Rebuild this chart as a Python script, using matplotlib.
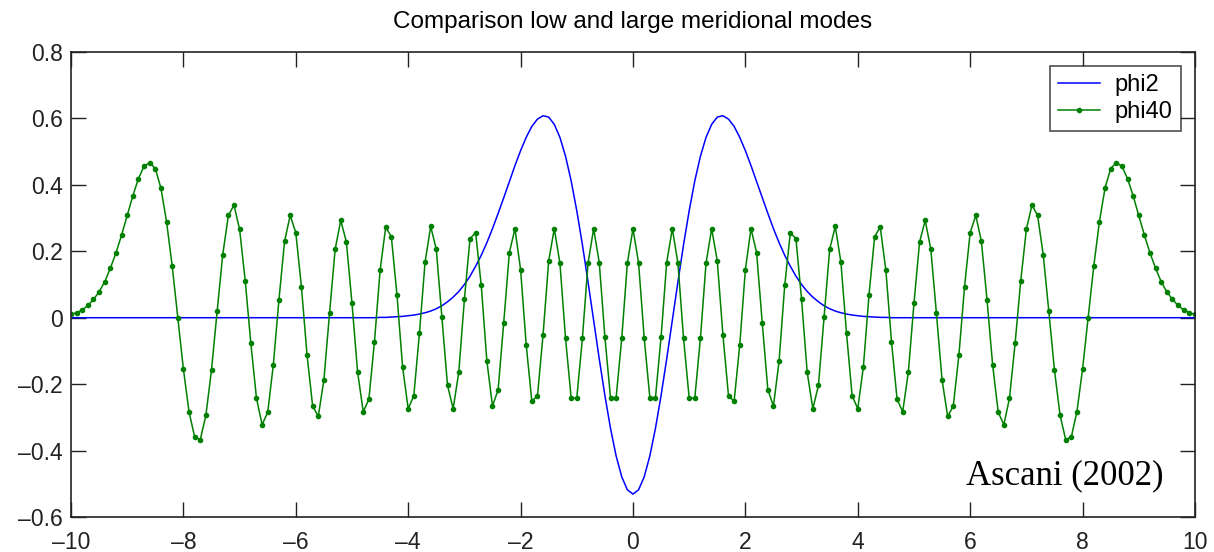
import matplotlib
matplotlib.use("Agg")
import matplotlib.pyplot as plt

plt.rcParams['font.family'] = ['Liberation Sans', 'DejaVu Sans']

# x grid, step 0.1 from -10 to 10
x = [round(-10 + 0.1 * i, 1) for i in range(201)]

# phi2 (zero outside |x| ~ 4.5)
phi2_core = [0.001, 0.001, 0.002, 0.003, 0.004, 0.006, 0.008, 0.011, 0.015, 0.020,
             0.027, 0.036, 0.048, 0.062, 0.079, 0.100, 0.125, 0.155, 0.188, 0.226,
             0.268, 0.314, 0.361, 0.410, 0.458, 0.503, 0.543, 0.576, 0.598, 0.608,
             0.604, 0.582, 0.543, 0.486, 0.412, 0.322, 0.220, 0.108, -0.008, -0.124,
             -0.234, -0.333, -0.416, -0.479, -0.518, -0.531, -0.518, -0.479, -0.416, -0.333,
             -0.234, -0.124, -0.008, 0.108, 0.220, 0.322, 0.412, 0.486, 0.543, 0.582,
             0.604, 0.608, 0.598, 0.576, 0.543, 0.503, 0.458, 0.410, 0.361, 0.314,
             0.268, 0.226, 0.188, 0.155, 0.125, 0.100, 0.079, 0.062, 0.048, 0.036,
             0.027, 0.020, 0.015, 0.011, 0.008, 0.006, 0.004, 0.003, 0.002, 0.001,
             0.001]
phi2 = [0.0] * 55 + phi2_core + [0.0] * 55

phi40 = [0.010, 0.015, 0.023, 0.037, 0.055, 0.078, 0.108, 0.149, 0.195, 0.249,
         0.308, 0.367, 0.419, 0.456, 0.467, 0.449, 0.390, 0.289, 0.156, 0.000,
         -0.155, -0.283, -0.359, -0.367, -0.294, -0.157, 0.019, 0.190, 0.308, 0.339,
         0.266, 0.111, -0.077, -0.242, -0.322, -0.285, -0.142, 0.054, 0.230, 0.308,
         0.256, 0.093, -0.112, -0.266, -0.297, -0.187, 0.013, 0.206, 0.293, 0.228,
         0.043, -0.164, -0.283, -0.246, -0.072, 0.143, 0.273, 0.244, 0.069, -0.148,
         -0.274, -0.235, -0.047, 0.167, 0.275, 0.206, 0.002, -0.204, -0.274, -0.164,
         0.055, 0.238, 0.256, 0.097, -0.130, -0.266, -0.217, -0.015, 0.196, 0.268,
         0.145, -0.082, -0.251, -0.236, -0.051, 0.171, 0.268, 0.164, -0.062, -0.242,
         -0.242, -0.062, 0.164, 0.268, 0.166, -0.058, -0.241, -0.241, -0.062, 0.164,
         0.268,
         0.164, -0.062, -0.241, -0.241, -0.058, 0.166, 0.268, 0.164, -0.062, -0.242,
         -0.242, -0.062, 0.164, 0.268, 0.171, -0.051, -0.236, -0.251, -0.082, 0.145,
         0.268, 0.196, -0.015, -0.217, -0.266, -0.130, 0.097, 0.256, 0.238, 0.055,
         -0.164, -0.274, -0.204, 0.002, 0.206, 0.275, 0.167, -0.047, -0.235, -0.274,
         -0.148, 0.069, 0.244, 0.273, 0.143, -0.072, -0.246, -0.283, -0.164, 0.043,
         0.228, 0.293, 0.206, 0.013, -0.187, -0.297, -0.266, -0.112, 0.093, 0.256,
         0.308, 0.230, 0.054, -0.142, -0.285, -0.322, -0.242, -0.077, 0.111, 0.266,
         0.339, 0.308, 0.190, 0.019, -0.157, -0.294, -0.367, -0.359, -0.283, -0.155,
         0.000, 0.156, 0.289, 0.390, 0.449, 0.467, 0.456, 0.419, 0.367, 0.308,
         0.249, 0.195, 0.149, 0.108, 0.078, 0.055, 0.037, 0.023, 0.015, 0.010]

xticks = [-10, -8, -6, -4, -2, 0, 2, 4, 6, 8, 10]
yticks = [-0.6, -0.4, -0.2, 0, 0.2, 0.4, 0.6, 0.8]

fig = plt.figure(figsize=(12.14, 5.52), dpi=100)
ax = fig.add_axes([0.0585, 0.0634, 0.9258, 0.8424])

ax.plot(x, phi2, color='#0000ff', lw=1.1, label='phi2')
ax.plot(x, phi40, color='#008000', lw=1.1, marker='.', markersize=6, label='phi40')

ax.set_xlim(-10, 10)
ax.set_ylim(-0.6, 0.8)
ax.set_xticks(xticks)
ax.set_yticks(yticks)
ax.set_xticklabels([str(t).replace('-', '\u2013') for t in xticks])
ax.set_yticklabels(['\u20130.6', '\u20130.4', '\u20130.2', '0', '0.2', '0.4', '0.6', '0.8'])
ax.tick_params(direction='in', length=11, width=1, labelsize=16.5,
               top=True, right=True, colors='#222222', pad=6)
ax.tick_params(axis='x', pad=10)
for s in ax.spines.values():
    s.set_linewidth(1.2)
    s.set_color('#222222')

ax.set_title('Comparison low and large meridional modes', fontsize=17.5, pad=17)

leg = ax.legend(loc='upper right', fontsize=17, fancybox=False, edgecolor='#222222',
                borderaxespad=0.6, handlelength=1.8, handletextpad=0.6,
                labelspacing=0.2, borderpad=0.35)
leg.get_frame().set_linewidth(1.2)

ax.text(0.884, 0.088, 'Ascani (2002)', transform=ax.transAxes, ha='center', va='center',
        fontsize=25, family=['Liberation Serif', 'DejaVu Serif'])

plt.savefig('out.png', dpi=100)
